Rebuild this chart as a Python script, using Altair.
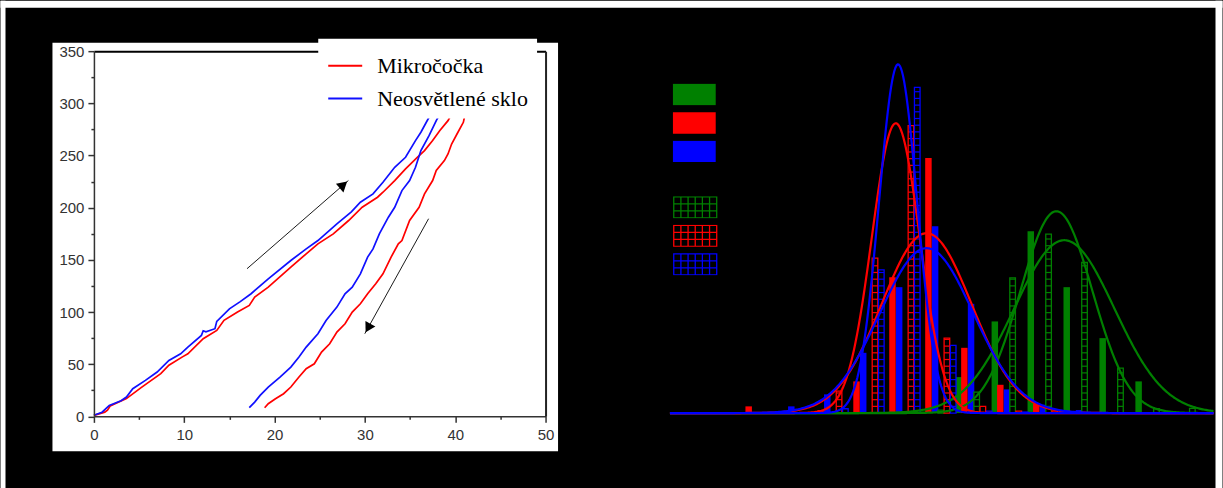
import math
import altair as alt
import numpy as np
import pandas as pd

# ================= LEFT PANEL =================
series_names = ["Mikročočka", "Neosvětlené sklo"]
series_colors = ["#ff0000", "#1010ff"]
x_ticks = [0, 10, 20, 30, 40, 50]
x_minor = [5, 15, 25, 35, 45]
y_ticks = [0, 50, 100, 150, 200, 250, 300, 350]
y_minor = [25, 75, 125, 175, 225, 275, 325]

red_load_x = [0, 1.2, 1.5, 1.8, 3.6, 5.3, 7.4, 8.3, 9.8, 10.4, 12.1, 13.6, 14.4, 15.9, 17.2, 17.8,
              19.3, 21.8, 23.5, 24.8, 26.5, 28.2, 29.7, 31.4, 32.0, 33.3, 34.5, 35.8, 36.6, 37.5,
              38.3, 39.2, 39.8, 40.0]
red_load_y = [1, 4, 6, 10, 17, 28, 41, 49, 57, 60, 74.4, 82.3, 92, 100, 106.3, 114.3,
              123.8, 143, 155.8, 165.3, 174.9, 187.7, 200.4, 210, 214.8, 226, 237.2, 248.3, 254.7, 264.3,
              273.9, 283.4, 293, 297]
red_unload_x = [41.4, 41.1, 40.9, 40.3, 39.6, 39.2, 38.8, 37.9, 37.5, 36.6, 36.0, 34.95, 34.1, 33.7,
                32.9, 32.0, 31.2, 30.3, 29.5, 28.6, 27.8, 26.9, 26.1, 25.2, 24.4, 23.5, 22.7, 21.8,
                21.0, 20.1, 19.3, 18.9]
red_unload_y = [297, 289.8, 281.8, 272.3, 261, 251.5, 245.1, 235.6, 226, 213.2, 200.4, 187.7, 168.5, 165.3,
                152.6, 136.6, 127, 117.5, 107.9, 99.9, 88.7, 80.8, 69.6, 61.6, 50.4, 45.6, 37.7, 28.1,
                21.7, 16.9, 12.1, 8.3]
blue_load_x = [0, 0.9, 1.7, 3.0, 3.6, 4.3, 5.7, 7.0, 8.3, 9.6, 10.4, 11.9, 12.1, 12.4, 13.4, 13.6,
               15.0, 16.2, 17.4, 19.3, 21.8, 23.5, 24.8, 26.9, 28.5, 29.5, 30.9, 32.0, 33.3, 34.5,
               35.6, 36.2, 37.1, 37.9]
blue_load_y = [1, 4, 10.5, 15, 18.5, 26.5, 34.5, 42.5, 53.6, 60, 66.4, 77.6, 82, 81, 84, 91,
               103, 110, 117.5, 131.8, 149.4, 160.5, 168.5, 184.5, 196, 205.2, 213.2, 224.4, 238.7, 248.3,
               264.3, 272.3, 286.6, 297]
blue_unload_x = [39.0, 38.3, 37.9, 37.1, 36.2, 35.6, 34.95, 34.1, 33.3, 32.6, 31.6, 30.9, 30.3, 29.5,
                 28.6, 27.8, 26.9, 25.7, 24.8, 23.5, 22.7, 21.8, 20.6, 19.3, 18.4, 17.8, 17.2]
blue_unload_y = [297, 289.8, 283.4, 269, 254.7, 238.7, 226, 216.4, 200.4, 190.9, 174.9, 160.5, 152.6, 136.6,
                 123.8, 117.5, 104.7, 91.9, 79.2, 66.4, 56.8, 47.2, 37.7, 28.1, 20.1, 13.7, 8.3]

arrow_x1 = [16.95, 37.05]
arrow_y1 = [141.5, 189.4]
arrow_x2 = [28.17, 29.99]
arrow_y2 = [226.0, 79.2]

# ================= RIGHT PANEL =================
bins = list(range(-3, 10))
green_solid = [0, 0, 0, 0, 0, 1.5, 36, 91.7, 182, 126, 75, 31.7, 0]
red_solid = [6.7, 0, 3, 31.7, 136, 255.3, 65.3, 28.3, 9.3, 1.5, 0, 0, 0]
blue_solid = [0, 6.7, 18.7, 60.3, 126, 187, 109.3, 23.7, 8.3, 3, 0, 0, 0]
green_hatch = [0, 0, 0, 0, 0, 3, 21, 135.3, 179, 150.7, 45, 4.3, 4.7]
red_hatch = [0, 0, 22, 155, 287.7, 75, 6.7, 2, 2, 0, 0, 0, 0]
blue_hatch = [0, 0, 4.3, 143.3, 326, 67.7, 2, 1, 0, 0, 0, 0, 0]
legend_solid = ["G", "R", "B"]
legend_hatch = ["G2", "R2", "B2"]
rgb = ["#008000", "#ff0000", "#0000ff"]

# fitted normal curves: green (2), red (2), blue (2)
curve_amp = [202, 173, 290, 180, 349, 165]
curve_mu = [5.56, 5.78, 1.092, 1.95, 1.156, 1.95]
curve_sigma = [1.0, 1.39, 0.667, 1.25, 0.53, 1.3]
curve_color = ["#008000", "#008000", "#ff0000", "#ff0000", "#0000ff", "#0000ff"]

# ================= layout constants =================
W1, H1 = 452, 365.5
OX, OY = 93.5, 50.5          # left plot origin on the page
GAP = 124.5
W2, H2 = 544, 362.2
X_DOM_R = [-5.19, 9.93]
R_SHIFT = W1 + GAP           # right plot origin relative to the left one

# ---------- left chart ----------
rows = []
for name, br, xs_, ys_ in [
    (series_names[0], "a", red_load_x, red_load_y),
    (series_names[0], "b", red_unload_x, red_unload_y),
    (series_names[1], "a", blue_load_x, blue_load_y),
    (series_names[1], "b", blue_unload_x, blue_unload_y),
]:
    for i, (a, b) in enumerate(zip(xs_, ys_)):
        rows.append({"series": name, "branch": name + br, "idx": i, "x": a, "y": b})
df_lines = pd.DataFrame(rows)

kx, ky = W1 / 50, H1 / 350
S_HEAD = 130
tip = math.sqrt(S_HEAD) / 2 * math.tan(math.pi / 6) * 2
arows = []
for x1, y1, x2, y2 in zip(arrow_x1, arrow_y1, arrow_x2, arrow_y2):
    dx, dy = (x2 - x1) * kx, -(y2 - y1) * ky
    L = math.hypot(dx, dy)
    ux, uy = dx / L, dy / L
    arows.append({"x1": x1, "y1": y1, "x2": x2, "y2": y2,
                  "hx": x2 - tip * ux / kx, "hy": y2 + tip * uy / ky,
                  "ang": math.degrees(math.atan2(ux, -uy)) % 360})
df_arrows = pd.DataFrame(arows)

xs = alt.Scale(domain=[0, 50], nice=False, zero=False)
ys = alt.Scale(domain=[0, 350], nice=False, zero=False)
one = pd.DataFrame({"k": [0]})

AX_COL = "#333333"


def deco(x1, x2, y1, y2, color):
    return alt.Chart(one).mark_rect(color=color).encode(
        x=alt.value(x1 - OX), x2=alt.value(x2 - OX),
        y=alt.value(y1 - OY), y2=alt.value(y2 - OY))


panel = deco(52, 558, 42, 451, "white")
strip_l = deco(0, 5, 0, 489, "white")
strip_t = deco(0, 1223, 0, 7, "white")
strip_r = deco(1216, 1223, 0, 489, "white")

main_axis_x = alt.Axis(values=x_ticks, title=None, grid=False, orient="bottom", zindex=1,
                       domainColor=AX_COL, domainWidth=1.5, tickColor=AX_COL, tickWidth=1.5,
                       tickSize=6, labelFont="Liberation Sans", labelFontSize=15,
                       labelColor=AX_COL, labelPadding=5, labelFlush=False)
main_axis_y = alt.Axis(values=y_ticks, title=None, grid=False, orient="left", zindex=1,
                       domainColor=AX_COL, domainWidth=1.5, tickColor=AX_COL, tickWidth=1.5,
                       tickSize=6, labelFont="Liberation Sans", labelFontSize=15,
                       labelColor=AX_COL, labelPadding=4, labelFlush=False)

lines = alt.Chart(df_lines).mark_line(strokeWidth=1.7).encode(
    x=alt.X("x:Q", scale=xs, axis=main_axis_x),
    y=alt.Y("y:Q", scale=ys, axis=main_axis_y),
    color=alt.Color("series:N",
                    scale=alt.Scale(domain=series_names, range=series_colors),
                    legend=alt.Legend(orient="none", legendX=224.5, legendY=-12.5,
                                      fillColor="white", padding=9, title=None,
                                      symbolType="stroke", symbolSize=1156,
                                      symbolStrokeWidth=2, labelFont="Liberation Serif",
                                      labelFontSize=22, labelColor="black",
                                      labelOffset=14, rowPadding=4, labelLimit=400,
                                      zindex=2)),
    detail="branch:N",
    order="idx:Q",
)

arrow_shaft = alt.Chart(df_arrows).mark_rule(color="#1a1a1a", strokeWidth=1).encode(
    x=alt.X("x1:Q", scale=xs, axis=None), y=alt.Y("y1:Q", scale=ys, axis=None),
    x2="x2:Q", y2="y2:Q")
arrow_head = alt.Chart(df_arrows).mark_point(shape="triangle-up", filled=True,
                                             color="#000000", size=S_HEAD, opacity=1).encode(
    x=alt.X("hx:Q", scale=xs, axis=None), y=alt.Y("hy:Q", scale=ys, axis=None),
    angle=alt.Angle("ang:Q", scale=None))

frame = alt.Chart(one).mark_point(opacity=0).encode(
    x=alt.X("k:Q", scale=xs, axis=alt.Axis(orient="top", labels=False, ticks=False, title=None,
                                           grid=False, domainColor="black", domainWidth=2,
                                           zindex=1, values=[0])),
    y=alt.Y("k:Q", scale=ys, axis=alt.Axis(orient="right", labels=False, ticks=False, title=None,
                                           grid=False, domainColor="#222222", domainWidth=2,
                                           zindex=1, values=[0])))
minor = alt.Chart(one).mark_point(opacity=0).encode(
    x=alt.X("k:Q", scale=xs, axis=alt.Axis(orient="bottom", values=x_minor, labels=False,
                                           domain=False, tickSize=3, tickColor=AX_COL,
                                           tickWidth=1.5, title=None, grid=False, zindex=1)),
    y=alt.Y("k:Q", scale=ys, axis=alt.Axis(orient="left", values=y_minor, labels=False,
                                           domain=False, tickSize=3, tickColor=AX_COL,
                                           tickWidth=1.5, title=None, grid=False, zindex=1)))

left = alt.layer(panel, strip_l, strip_t, strip_r, lines, arrow_shaft, arrow_head, frame, minor
                 ).resolve_axis(x="independent", y="independent").properties(width=W1, height=H1)

# ---------- right chart ----------
offs_solid = [-0.153, 0.0, 0.186]
offs_hatch = [0.342, 0.514, 0.689]
HW_S, HW_H = 0.09, 0.078
RUNG = 6.7

srows = []
for name, off, hs in zip(legend_solid, offs_solid, [green_solid, red_solid, blue_solid]):
    for b, h in zip(bins, hs):
        if h > 0:
            srows.append({"s": name, "x1": b + off - HW_S, "x2": b + off + HW_S, "h": h, "h0": 0})
df_solid = pd.DataFrame(srows)

hrows, rrows = [], []
for name, off, hs in zip(legend_hatch, offs_hatch, [green_hatch, red_hatch, blue_hatch]):
    for b, h in zip(bins, hs):
        if h > 0:
            x1, x2 = b + off - HW_H, b + off + HW_H
            hrows.append({"t": name, "x1": x1, "x2": x2, "h": h, "h0": 0})
            k = 1
            while k * RUNG < h - 1:
                rrows.append({"t": name, "x1": x1, "x2": x2, "y": k * RUNG})
                k += 1
df_hatch = pd.DataFrame(hrows)
df_rungs = pd.DataFrame(rrows)

xg = np.linspace(X_DOM_R[0], X_DOM_R[1], 500)
crow = []
for i, (a, m, s, c) in enumerate(zip(curve_amp, curve_mu, curve_sigma, curve_color)):
    yv = a * np.exp(-0.5 * ((xg - m) / s) ** 2)
    for xv, yy in zip(xg, yv):
        crow.append({"curve": i, "col": c, "x": xv, "y": yy})
df_curves = pd.DataFrame(crow)

xr = alt.Scale(domain=X_DOM_R, nice=False, zero=False)
yr = alt.Scale(domain=[0, H2], nice=False, zero=True)

rect_path = "M-1,-0.5H1V0.5H-1Z"
grid_path = ("M-1,-0.49H1V0.49H-1Z M-0.667,-0.49V0.49 M-0.333,-0.49V0.49 M0,-0.49V0.49 "
             "M0.333,-0.49V0.49 M0.667,-0.49V0.49 M-1,-0.163H1 M-1,0.163H1")

solid = alt.Chart(df_solid).mark_bar().encode(
    x=alt.X("x1:Q", scale=xr, axis=None), x2="x2:Q",
    y=alt.Y("h:Q", scale=yr, axis=None), y2="h0:Q",
    fill=alt.Fill("s:N", scale=alt.Scale(domain=legend_solid, range=rgb),
                  legend=alt.Legend(orient="none", legendX=R_SHIFT + 2.8, legendY=32.3,
                                    padding=0, title=None, symbolType=rect_path,
                                    symbolSize=1849, clipHeight=22, rowPadding=6.5,
                                    labelColor="black", labelFontSize=9,
                                    symbolStrokeWidth=0, symbolOpacity=1)),
)
hatch = alt.Chart(df_hatch).mark_bar(fill="black", strokeWidth=1.3).encode(
    x=alt.X("x1:Q", scale=xr, axis=None), x2="x2:Q",
    y=alt.Y("h:Q", scale=yr, axis=None), y2="h0:Q",
    stroke=alt.Stroke("t:N", scale=alt.Scale(domain=legend_hatch, range=rgb),
                      legend=alt.Legend(orient="none", legendX=R_SHIFT + 2.8, legendY=145.3,
                                        padding=0, title=None, symbolType=grid_path,
                                        symbolSize=1849, clipHeight=22, rowPadding=6.5,
                                        labelColor="black", labelFontSize=9,
                                        symbolStrokeWidth=1.3, symbolFillColor="black",
                                        symbolOpacity=1)),
)
rungs = alt.Chart(df_rungs).mark_rule(strokeWidth=1.2).encode(
    x=alt.X("x1:Q", scale=xr, axis=None), x2="x2:Q",
    y=alt.Y("y:Q", scale=yr, axis=None),
    stroke=alt.Stroke("t:N", scale=alt.Scale(domain=legend_hatch, range=rgb), legend=None),
)


def curve_layer(idxs):
    return alt.Chart(df_curves[df_curves["curve"].isin(idxs)]).mark_line(strokeWidth=2.2).encode(
        x=alt.X("x:Q", scale=xr, axis=None),
        y=alt.Y("y:Q", scale=yr, axis=None),
        color=alt.Color("col:N", scale=None),
        detail="curve:N",
    )


right = alt.layer(solid, hatch, rungs, curve_layer([0, 1]), curve_layer([2, 3]),
                  curve_layer([4, 5])).properties(width=W2, height=H2)

chart = alt.hconcat(left, right, spacing=GAP, bounds="flush", padding=0).configure(
    background="black").configure_view(stroke=None)

chart.save("out.html", embed_options={"renderer": "svg", "actions": False})
